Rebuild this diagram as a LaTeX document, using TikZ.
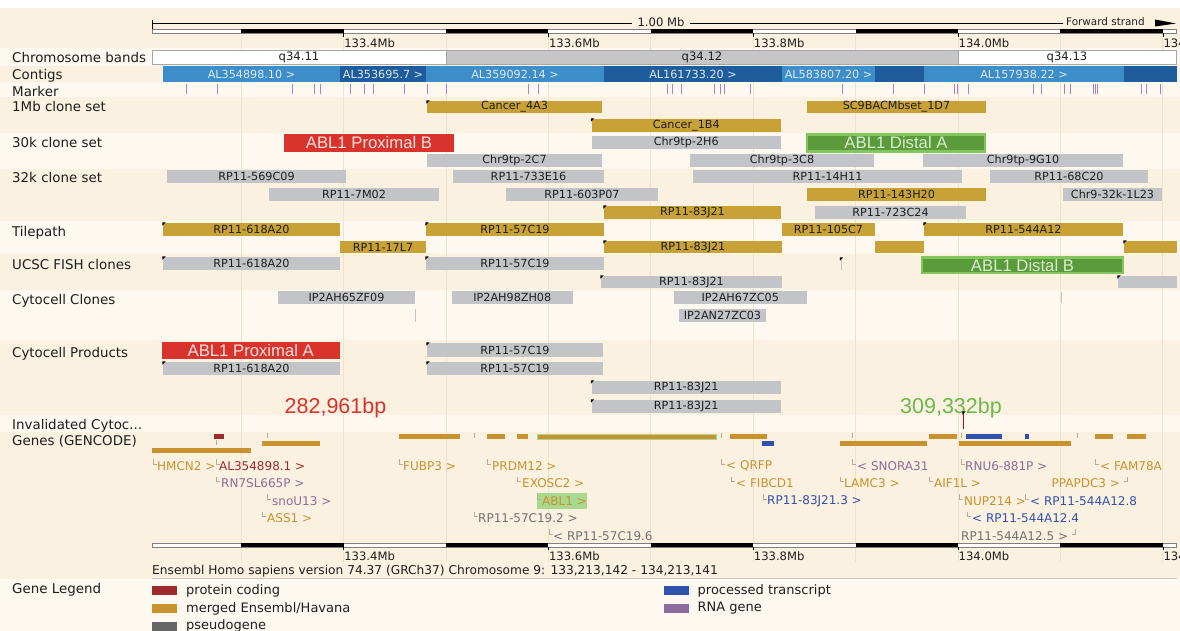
\documentclass[tikz,border=0pt]{standalone}
\usepackage{fontspec}
\setmainfont{DejaVu Sans}
\newfontfamily\arialf{Liberation Sans}
\definecolor{bandA}{HTML}{FBF1E0}
\definecolor{bandB}{HTML}{FDF9F1}
\definecolor{gridc}{HTML}{F0E3CB}
\definecolor{goldc}{HTML}{C8A236}
\definecolor{greyc}{HTML}{C3C4C7}
\definecolor{redc}{HTML}{D9332D}
\definecolor{redtxt}{HTML}{F8E2DC}
\definecolor{greenc}{HTML}{5B9B3B}
\definecolor{greenbd}{HTML}{84C65E}
\definecolor{greentxt}{HTML}{D9EDD0}
\definecolor{lblue}{HTML}{3D8DC9}
\definecolor{dblue}{HTML}{1F5C9B}
\definecolor{ctgtxt}{HTML}{DCEAF6}
\definecolor{mkc}{HTML}{B07FB5}
\definecolor{gorange}{HTML}{C8922E}
\definecolor{gdred}{HTML}{9E2A2B}
\definecolor{gpurple}{HTML}{8B6C9C}
\definecolor{ggrey}{HTML}{717171}
\definecolor{gblue}{HTML}{2F52AE}
\definecolor{bpred}{HTML}{D9332D}
\definecolor{bpgreen}{HTML}{6DB84B}
\definecolor{hlgreen}{HTML}{A9D98E}
\definecolor{lmarkc}{HTML}{B8AC98}
\definecolor{pseudoc}{HTML}{666666}
\definecolor{txt}{HTML}{1E1E1E}
\definecolor{bandgrey}{HTML}{C6C6C6}
\tikzset{
  cl/.style={inner sep=0pt, outer sep=0pt, anchor=north west, font=\fontsize{11.2}{12}\selectfont, text=txt},
  goldb/.style={cl, fill=goldc},
  greyb/.style={cl, fill=greyc},
  redb/.style={cl, fill=redc, text=redtxt, font=\arialf\fontsize{16.7}{18}\selectfont},
  greenbox/.style={cl, fill=greenc, draw=greenbd, line width=2.4pt, text=greentxt, font=\arialf\fontsize{16.7}{18}\selectfont},
  ctgA/.style={cl, fill=lblue, text=ctgtxt},
  ctgB/.style={cl, fill=dblue, text=ctgtxt},
  chrw/.style={cl, fill=white, draw=gray!70, line width=0.5pt, font=\fontsize{11.6}{12}\selectfont},
  chrg/.style={cl, fill=bandgrey, draw=gray!70, line width=0.5pt, font=\fontsize{11.6}{12}\selectfont},
  trk/.style={inner sep=0pt, anchor=west, font=\fontsize{13.4}{14}\selectfont, text=txt},
  glab/.style={inner sep=0pt, anchor=west, font=\fontsize{12}{13}\selectfont},
  tick/.style={inner sep=0pt, anchor=west, font=\fontsize{11.6}{12}\selectfont, text=txt},
  legt/.style={inner sep=0pt, anchor=west, font=\fontsize{13}{14}\selectfont, text=txt},
  mk/.style={draw=mkc, line width=0.7pt},
  lmk/.style={draw=lmarkc, line width=0.7pt},
}
\newcommand{\clone}[7]{\node[#2, minimum width={#4pt-#3pt}, minimum height={#6pt-#5pt}] (#1) at (#3,#5) {#7};}
\newcommand{\cmk}[2]{\fill[black] (#1-0.6,#2-0.6) -- ++(3.2,0) -- ++(-3.2,3.2) -- cycle;}
\newcommand{\gmkl}[2]{\draw[lmk] (#1,#2-7) -- (#1,#2-2) -- (#1+3.5,#2-2);}
\newcommand{\gmkr}[2]{\draw[lmk] (#1,#2-7) -- (#1,#2-2) -- (#1-3.5,#2-2);}
\begin{document}
\begin{tikzpicture}[x=1pt,y=-1pt]
\clip (0,0) rectangle (1180,631);
\fill[white] (0,0) rectangle (1180,631);
% track bands
\fill[bandA] (0,8) rectangle (1180,48);
\fill[bandB] (0,48) rectangle (1180,66);
\fill[bandA] (0,66) rectangle (1180,82);
\fill[bandB] (0,82) rectangle (1180,97);
\fill[bandA] (0,97) rectangle (1180,133);
\fill[bandB] (0,133) rectangle (1180,169);
\fill[bandA] (0,169) rectangle (1180,221);
\fill[bandB] (0,221) rectangle (1180,254);
\fill[bandA] (0,254) rectangle (1180,290);
\fill[bandB] (0,290) rectangle (1180,340);
\fill[bandA] (0,340) rectangle (1180,415);
\fill[bandB] (0,415) rectangle (1180,432);
\fill[bandA] (0,432) rectangle (1180,579);
\fill[bandB] (0,579) rectangle (1180,631);
% grid lines
\foreach \gx in {241.2,343.6,446,548.4,650.8,753.2,855.6,958,1060.4,1162.8}
  \draw[gridc, line width=0.8pt] (\gx,36) -- (\gx,562);

% ===== top ruler =====
\draw[black, line width=0.6pt] (152,20) -- (152,30);
\draw[black, line width=0.6pt] (152,23) -- (632,23);
\draw[black, line width=0.6pt] (690,23) -- (1063,23);
\node[tick, anchor=center] (onemb) at (661,22) {1.00 Mb};
\node[tick, font=\fontsize{10.4}{11}\selectfont] (fwd) at (1066,22) {Forward strand};
\fill[black] (1155,19.5) -- (1176,23.5) -- (1155,26.5) -- cycle;
\draw[gray, line width=0.5pt, fill=white] (152,29.5) rectangle (1176,33.5);
\foreach \a/\b in {241.2/343.6,446/548.4,650.8/753.2,855.6/958,1060.4/1162.8}
  \fill[black] (\a,29.5) rectangle (\b,33.5);
\foreach \tx/\tl in {343.6/133.4Mb,548.4/133.6Mb,753.2/133.8Mb,958/134.0Mb,1162.8/134.2Mb}{
  \draw[black, line width=0.5pt] (\tx,33.5) -- (\tx,37);
  \node[tick] at (\tx+0.5,43) {\tl};
}

% ===== left labels =====
\node[trk] (l1) at (12,57.5) {Chromosome bands};
\node[trk] (l2) at (12,76) {Contigs};
\node[trk] (l3) at (12,91.5) {Marker};
\node[trk] (l4) at (12,107) {1Mb clone set};
\node[trk] (l5) at (12,143) {30k clone set};
\node[trk] (l6) at (12,177.5) {32k clone set};
\node[trk] (l7) at (12,233) {Tilepath};
\node[trk] (l8) at (12,264.5) {UCSC FISH clones};
\node[trk] (l9) at (12,301) {Cytocell Clones};
\node[trk] (l10) at (12,354) {Cytocell Products};
\node[trk] (l11) at (12,426) {Invalidated Cytoc...};
\node[trk] (l12) at (12,441) {Genes (GENCODE)};
\node[trk] (l13) at (12,590) {Gene Legend};

% ===== chromosome bands =====
\clone{q1}{chrw}{152}{446}{50}{64.5}{q34.11}
\clone{q2}{chrg}{446}{958}{50}{64.5}{q34.12}
\clone{q3}{chrw}{958}{1176}{50}{64.5}{q34.13}

% ===== contigs =====
\clone{k1}{ctgA}{163}{340}{66.5}{82}{AL354898.10 >}
\clone{k2}{ctgB}{340}{426}{66.5}{82}{AL353695.7 >}
\clone{k3}{ctgA}{426}{604}{66.5}{82}{AL359092.14 >}
\clone{k4}{ctgB}{604}{782}{66.5}{82}{AL161733.20 >}
\clone{k5}{ctgA}{782}{875}{66.5}{82}{AL583807.20 >}
\clone{k6}{ctgB}{875}{924}{66.5}{82}{}
\clone{k7}{ctgA}{924}{1124}{66.5}{82}{AL157938.22 >}
\clone{k8}{ctgB}{1124}{1177}{66.5}{82}{}

% ===== markers =====
\foreach \mx in {186,217,292,314,320,350,364,373,404,427,446,528,538,667,672,681,714,720,724,750,842,893,924,954,957,968,1033,1041,1064,1070,1093,1095,1097,1141,1146,1160}
  \draw[mk] (\mx,84) -- (\mx,94);

% ===== 1Mb clone set =====
\clone{c4a3}{goldb}{427}{602}{101}{113}{Cancer\_4A3}
\clone{sc9}{goldb}{807}{986}{101}{113}{SC9BACMbset\_1D7}
\clone{c1b4}{goldb}{591.5}{781}{119}{132}{Cancer\_1B4}
\cmk{427}{101}\cmk{591.5}{119}

% ===== 30k clone set =====
\clone{ablpb}{redb}{284}{454}{134}{152}{ABL1 Proximal B}
\clone{c2h6}{greyb}{591.5}{781}{136}{149}{Chr9tp-2H6}
\clone{abldA}{greenbox}{807}{985}{134.5}{151.5}{ABL1 Distal A}
\clone{c2c7}{greyb}{427}{602}{154}{167}{Chr9tp-2C7}
\clone{c3c8}{greyb}{690}{874}{154}{167}{Chr9tp-3C8}
\clone{c9g10}{greyb}{923}{1123}{154}{167}{Chr9tp-9G10}

% ===== 32k clone set =====
\clone{r569}{greyb}{167}{346}{170}{183}{RP11-569C09}
\clone{r733}{greyb}{453}{604}{170}{183}{RP11-733E16}
\clone{r14h}{greyb}{693}{962}{170}{183}{RP11-14H11}
\clone{r68c}{greyb}{990}{1148}{170}{183}{RP11-68C20}
\clone{r7m}{greyb}{269}{439}{188}{201}{RP11-7M02}
\clone{r603}{greyb}{506}{658}{188}{201}{RP11-603P07}
\clone{r143}{goldb}{807}{986}{188}{201}{RP11-143H20}
\clone{c1l23}{greyb}{1063}{1162}{188}{201}{Chr9-32k-1L23}
\clone{r83a}{goldb}{604}{781}{206}{219}{RP11-83J21}
\clone{r723}{greyb}{815}{966}{206}{219}{RP11-723C24}
\cmk{604}{206}

% ===== Tilepath =====
\clone{t618}{goldb}{163}{340}{223}{236}{RP11-618A20}
\clone{t57}{goldb}{426}{604}{223}{236}{RP11-57C19}
\clone{t105}{goldb}{782}{875}{223}{236}{RP11-105C7}
\clone{t544}{goldb}{924}{1123}{223}{236}{RP11-544A12}
\clone{t17}{goldb}{340}{426}{241}{253}{RP11-17L7}
\clone{t83}{goldb}{604}{782}{241}{253}{RP11-83J21}
\clone{tx1}{goldb}{875}{924}{241}{253}{}
\clone{tx2}{goldb}{1124}{1177}{241}{253}{}
\cmk{163}{223}\cmk{426}{223}\cmk{924}{223}\cmk{604}{241}\cmk{1124}{241}

% ===== UCSC FISH clones =====
\clone{u618}{greyb}{163}{340}{257}{270}{RP11-618A20}
\clone{u57}{greyb}{426}{604}{257}{270}{RP11-57C19}
\clone{utiny}{greyb}{840.5}{841.8}{259}{270}{}
\clone{abldB}{greenbox}{922}{1123}{257.5}{273}{ABL1 Distal B}
\clone{u83}{greyb}{601}{782}{276}{288}{RP11-83J21}
\clone{ux}{greyb}{1118}{1177}{276}{288}{}
\cmk{163}{257}\cmk{426}{257}\cmk{840.5}{258}\cmk{601}{276}\cmk{1118}{276}

% ===== Cytocell Clones =====
\clone{i65}{greyb}{278}{415}{291}{304}{IP2AH65ZF09}
\clone{i98}{greyb}{451.6}{573}{291}{304}{IP2AH98ZH08}
\clone{i67}{greyb}{674}{806.5}{291}{304}{IP2AH67ZC05}
\clone{i27}{greyb}{679}{766}{309}{322}{IP2AN27ZC03}
\clone{ix1}{greyb}{414.6}{415.8}{309}{322}{}
\clone{ix2}{greyb}{1060.6}{1061.8}{292}{303}{}

% ===== Cytocell Products =====
\clone{ablpA}{redb}{161.5}{340}{342}{359}{ABL1 Proximal A}
\clone{p618}{greyb}{163}{340}{362}{375}{RP11-618A20}
\clone{p57a}{greyb}{427}{603}{343}{357}{RP11-57C19}
\clone{p57b}{greyb}{427}{603}{362}{375}{RP11-57C19}
\clone{p83a}{greyb}{591.5}{781}{381}{394}{RP11-83J21}
\clone{p83b}{greyb}{591.5}{781}{400}{413}{RP11-83J21}
\cmk{163}{362}\cmk{427}{343}\cmk{427}{362}\cmk{591.5}{381}\cmk{591.5}{400}

\node[inner sep=0pt, font=\arialf\fontsize{21.5}{24}\selectfont, text=bpred] (bp1) at (335.5,408) {282,961bp};
\node[inner sep=0pt, font=\arialf\fontsize{21.5}{24}\selectfont, text=bpgreen] (bp2) at (951,408) {309,332bp};

% ===== Invalidated =====
\draw[red!80!black, line width=0.8pt] (963,413) -- (963,429);
\cmk{963}{412}

% ===== Genes: bars =====
\fill[gdred] (214,434) rectangle (224,439);
\foreach \a/\b in {399/460,487/505,517/528,730/767,929/957,1095/1113,1127/1146}
  \fill[gorange] (\a,434) rectangle (\b,439);
\fill[gorange, draw=hlgreen, line width=0.8pt] (537,434) rectangle (716,439);
\fill[gblue] (966,434) rectangle (1002,439);
\fill[gblue] (1025,434) rectangle (1029,439);
\foreach \tx in {267,474.5,721.6,852,961,1077}
  \draw[lmk] (\tx,433) -- (\tx,438);
\draw[lmk] (216,440) -- (216,445);
\fill[gorange] (262,441) rectangle (320,446);
\fill[gblue] (762,441) rectangle (774,446);
\fill[gorange] (840,441) rectangle (927,446);
\fill[gorange] (959,441) rectangle (1071,446);
\fill[gorange] (152,448) rectangle (251,453);

% ===== Genes: labels =====
\fill[hlgreen] (537,493) rectangle (587,509);
\gmkl{153}{466}\node[glab, text=gorange] (g1) at (157,466) {HMCN2 >};
\gmkl{216}{466}\node[glab, text=gdred] (g2) at (219,466) {AL354898.1 >};
\gmkl{399}{466}\node[glab, text=gorange] (g3) at (403,466) {FUBP3 >};
\gmkl{487}{466}\node[glab, text=gorange] (g4) at (492,466) {PRDM12 >};
\gmkl{721.6}{466}\node[glab, text=gorange] (g5) at (726,466) {< QRFP};
\gmkl{852.5}{466}\node[glab, text=gpurple] (g6) at (857,466) {< SNORA31};
\gmkl{961.5}{466}\node[glab, text=gpurple] (g7) at (965,466) {RNU6-881P >};
\gmkl{1095}{466}\node[glab, text=gorange] (g8) at (1100,466) {< FAM78A};
\gmkl{216}{483.5}\node[glab, text=gpurple] (g9) at (221,483.5) {RN7SL665P >};
\gmkl{517}{483.5}\node[glab, text=gorange] (g10) at (522,483.5) {EXOSC2 >};
\gmkl{731}{483.5}\node[glab, text=gorange] (g11) at (736,483.5) {< FIBCD1};
\gmkl{840}{483.5}\node[glab, text=gorange] (g12) at (844,483.5) {LAMC3 >};
\gmkl{929}{483.5}\node[glab, text=gorange] (g13) at (934,483.5) {AIF1L >};
\node[glab, text=gorange] (g14) at (1051.5,483.5) {PPAPDC3 >};\gmkr{1127}{483.5}
\gmkl{267}{501}\node[glab, text=gpurple] (g15) at (272,501) {snoU13 >};
\gmkl{537}{501}\node[glab, text=gorange] (g16) at (542,501) {ABL1 >};
\gmkl{763}{501}\node[glab, text=gblue] (g17) at (767,501) {RP11-83J21.3 >};
\gmkl{959}{501}\node[glab, text=gorange] (g18) at (964,501) {NUP214 >};
\gmkl{1025}{501}\node[glab, text=gblue] (g19) at (1030,501) {< RP11-544A12.8};
\gmkl{262}{518.5}\node[glab, text=gorange] (g20) at (267,518.5) {ASS1 >};
\gmkl{474.5}{518.5}\node[glab, text=ggrey] (g21) at (478,518.5) {RP11-57C19.2 >};
\gmkl{967}{518.5}\node[glab, text=gblue] (g22) at (972,518.5) {< RP11-544A12.4};
\gmkl{549}{536}\node[glab, text=ggrey] (g23) at (553,536) {< RP11-57C19.6};
\node[glab, text=ggrey] (g24) at (961,536) {RP11-544A12.5 >};\gmkr{1075.6}{536}

% ===== bottom ruler =====
\draw[gray, line width=0.5pt, fill=white] (152,543) rectangle (1176,547);
\foreach \a/\b in {241.2/343.6,446/548.4,650.8/753.2,855.6/958,1060.4/1162.8}
  \fill[black] (\a,543) rectangle (\b,547);
\foreach \tx/\tl in {343.6/133.4Mb,548.4/133.6Mb,753.2/133.8Mb,958/134.0Mb,1162.8/134.2Mb}{
  \draw[black, line width=0.5pt] (\tx,547) -- (\tx,550);
  \node[tick] at (\tx+0.5,556) {\tl};
}
\node[tick, font=\fontsize{12.2}{13}\selectfont] (ens) at (152,571.5) {Ensembl Homo sapiens version 74.37 (GRCh37) Chromosome 9: 133,213,142 - 134,213,141};
\draw[gray!45, line width=0.6pt] (152,578.5) -- (1177,578.5);

% ===== legend =====
\fill[gdred] (152,586) rectangle (177,595);
\node[legt] (lg1) at (186,590.5) {protein coding};
\fill[gorange] (152,604) rectangle (177,613);
\node[legt] (lg2) at (186,608.5) {merged Ensembl/Havana};
\fill[pseudoc] (152,622) rectangle (177,631);
\node[legt] (lg3) at (186,626) {pseudogene};
\fill[gblue] (664,586) rectangle (689,595);
\node[legt] (lg4) at (697.5,590.5) {processed transcript};
\fill[gpurple] (664,604) rectangle (689,613);
\node[legt] (lg5) at (697.5,608.5) {RNA gene};
\end{tikzpicture}
\end{document}
